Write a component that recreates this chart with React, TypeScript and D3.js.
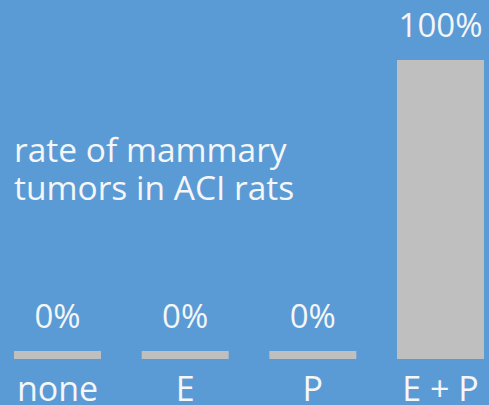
import React, { useEffect, useRef } from "react";
import * as d3 from "d3";

const categories = ["none", "E", "P", "E + P"];
const tumorRate = [0, 0, 0, 100];
const titleLines = ["rate of mammary", "tumors in ACI rats"];

const App = () => {
    const svgRef = useRef<SVGSVGElement>(null);

    useEffect(() => {
        document.body.style.margin = "0";
        const width = 489;
        const height = 405;
        const font = "'Open Sans', sans-serif";
        const textColor = "#f4f6f8";

        const svg = d3.select(svgRef.current)
            .attr("width", width)
            .attr("height", height)
            .style("display", "block");

        svg.selectAll("*").remove();

        svg.append("rect")
            .attr("width", width)
            .attr("height", height)
            .attr("fill", "#5b9bd5");

        const xScale = d3.scaleBand()
            .domain(categories)
            .range([14, 484])
            .paddingInner(0.3185)
            .paddingOuter(0);

        const yScale = d3.scaleLinear()
            .domain([0, 100])
            .range([359, 60]);

        // zero bars still get a thin stub so they show up
        const minStub = 8;
        const barTop = (v: number) => Math.min(yScale(v), yScale(0) - minStub);

        const data = categories.map((c, i) => ({ label: c, value: tumorRate[i] }));

        svg.selectAll(".bar")
            .data(data)
            .enter()
            .append("rect")
            .attr("x", d => xScale(d.label)!)
            .attr("y", d => barTop(d.value))
            .attr("width", xScale.bandwidth())
            .attr("height", d => yScale(0) - barTop(d.value))
            .attr("fill", "#bfbfbf");

        svg.selectAll(".val")
            .data(data)
            .enter()
            .append("text")
            .attr("x", d => xScale(d.label)! + xScale.bandwidth() / 2)
            .attr("y", d => barTop(d.value) - 23)
            .attr("text-anchor", "middle")
            .attr("font-family", font)
            .attr("font-size", 33)
            .attr("fill", textColor)
            .text(d => `${d.value}%`);

        svg.selectAll(".cat")
            .data(categories)
            .enter()
            .append("text")
            .attr("x", d => xScale(d)! + xScale.bandwidth() / 2)
            .attr("y", 401)
            .attr("text-anchor", "middle")
            .attr("font-family", font)
            .attr("font-size", 34)
            .attr("fill", textColor)
            .text(d => d);

        svg.selectAll(".title")
            .data(titleLines)
            .enter()
            .append("text")
            .attr("x", 14)
            .attr("y", (d, i) => 162 + i * 38)
            .attr("font-family", font)
            .attr("font-size", 33.5)
            .attr("fill", textColor)
            .text(d => d);
    }, []);

    return <svg ref={svgRef}></svg>;
};

export default App;
